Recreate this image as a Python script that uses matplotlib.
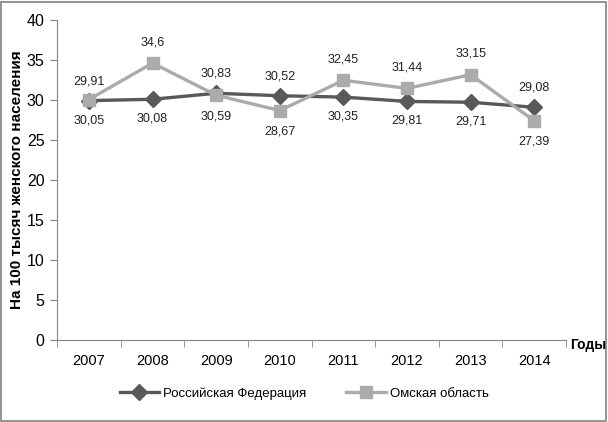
import matplotlib.pyplot as plt
from matplotlib.patches import Rectangle

plt.rcParams['font.family'] = ['Liberation Sans Narrow', 'Liberation Sans', 'DejaVu Sans']

years = ['2007', '2008', '2009', '2010', '2011', '2012', '2013', '2014']
russia = [29.91, 30.08, 30.83, 30.52, 30.35, 29.81, 29.71, 29.08]
omsk = [30.05, 34.6, 30.59, 28.67, 32.45, 31.44, 33.15, 27.39]

# label placement: +1 above, -1 below
russia_pos = [1, -1, 1, 1, -1, -1, -1, 1]
omsk_pos = [-1, 1, -1, -1, 1, 1, 1, -1]

fig = plt.figure(figsize=(6.08, 4.22), dpi=100)
ax = fig.add_axes([0.094, 0.194, 0.837, 0.759])

x = list(range(len(years)))
ax.plot(x, russia, '-D', color='#595959', lw=2.4, ms=8, mfc='#595959', mec='#595959',
        label='Российская Федерация', zorder=3)
ax.plot(x, omsk, '-s', color='#ABABAB', lw=2.4, ms=9, mfc='#ABABAB', mec='#ABABAB',
        label='Омская область', zorder=4)

for xi, v, p in zip(x, russia, russia_pos):
    ax.annotate(f'{v:g}'.replace('.', ','), (xi, v), xytext=(0, 14 * p), textcoords='offset points',
                ha='center', va='center', fontsize=9, color='#222222')
for xi, v, p in zip(x, omsk, omsk_pos):
    ax.annotate(f'{v:g}'.replace('.', ','), (xi, v), xytext=(0, 15 * p), textcoords='offset points',
                ha='center', va='center', fontsize=9, color='#222222')

ax.set_xlim(-0.5, len(years) - 0.5)
ax.set_ylim(0, 40)
ax.set_yticks(range(0, 41, 5))
ax.set_xticks(x)
ax.set_xticklabels(years, fontsize=10.5)
ax.set_xticks([i - 0.5 for i in range(len(years) + 1)], minor=True)
ax.tick_params(axis='x', which='major', length=0, pad=10)
ax.tick_params(axis='x', which='minor', length=5, color='#868686')
ax.tick_params(axis='y', length=5, color='#868686', labelsize=11.5, pad=4)

for s in ['top', 'right']:
    ax.spines[s].set_visible(False)
ax.spines['left'].set_color('#868686')
ax.spines['bottom'].set_color('#868686')

ax.set_ylabel('На 100 тысяч женского населения', fontsize=11, fontweight='bold', labelpad=2)
fig.text(0.937, 0.182, 'Годы', fontsize=10, fontweight='bold', ha='left', va='center')

fig.legend(loc='center', bbox_to_anchor=(0.5, 0.068), ncol=2, frameon=False, fontsize=9.5,
           handlelength=3, columnspacing=3, handletextpad=0.3)

fig.patches.append(Rectangle((0.002, 0.003), 0.995, 0.993, transform=fig.transFigure,
                             fill=False, edgecolor='#808080', lw=1.2))

fig.savefig('out.png', dpi=100)
